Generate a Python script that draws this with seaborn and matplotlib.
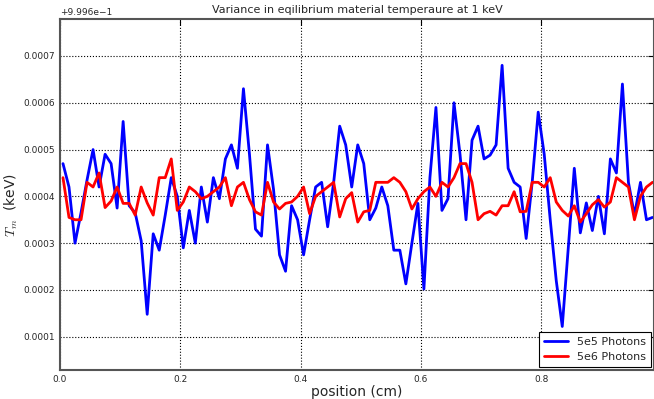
import numpy as np
import pandas as pd
import matplotlib
matplotlib.use("Agg")
import matplotlib.pyplot as plt
import seaborn as sns

# positions of the cells (cm)
position = [0.005 + 0.01 * i for i in range(99)]

# material temperature above the 0.9996 keV offset
offset = 0.9996
dev_5e5 = [
    4.7, 4.2, 3.0, 3.65, 4.35, 5.0, 4.2, 4.9, 4.7, 3.75,
    5.6, 3.8, 3.65, 3.05, 1.48, 3.2, 2.85, 3.6, 4.4, 4.0,
    2.9, 3.7, 3.0, 4.2, 3.45, 4.4, 3.95, 4.8, 5.1, 4.6,
    6.3, 4.9, 3.3, 3.15, 5.1, 4.15, 2.75, 2.4, 3.8, 3.5,
    2.75, 3.5, 4.2, 4.3, 3.35, 4.3, 5.5, 5.1, 4.2, 5.1,
    4.7, 3.5, 3.75, 4.2, 3.8, 2.85, 2.85, 2.13, 3.0, 3.85,
    2.02, 4.4, 5.9, 3.7, 3.95, 6.0, 4.9, 3.5, 5.2, 5.5,
    4.8, 4.88, 5.1, 6.8, 4.6, 4.3, 4.2, 3.1, 4.3, 5.8,
    4.9, 3.5, 2.2, 1.22, 2.9, 4.6, 3.22, 3.86, 3.27, 4.0,
    3.2, 4.8, 4.5, 6.4, 4.3, 3.6, 4.3, 3.5, 3.55,
]
dev_5e6 = [
    4.4, 3.55, 3.5, 3.5, 4.3, 4.2, 4.5, 3.76, 3.9, 4.2,
    3.85, 3.85, 3.6, 4.2, 3.86, 3.6, 4.4, 4.4, 4.8, 3.7,
    3.88, 4.2, 4.1, 3.95, 4.0, 4.1, 4.2, 4.4, 3.8, 4.2,
    4.3, 3.93, 3.67, 3.6, 4.3, 3.88, 3.73, 3.85, 3.88, 4.0,
    4.2, 3.63, 4.0, 4.1, 4.2, 4.3, 3.56, 3.95, 4.08, 3.45,
    3.67, 3.7, 4.3, 4.3, 4.3, 4.4, 4.3, 4.1, 3.73, 3.95,
    4.1, 4.2, 4.0, 4.3, 4.2, 4.4, 4.7, 4.7, 4.3, 3.5,
    3.63, 3.68, 3.6, 3.8, 3.8, 4.1, 3.67, 3.68, 4.3, 4.3,
    4.2, 4.4, 3.88, 3.7, 3.58, 3.8, 3.45, 3.63, 3.82, 3.93,
    3.77, 3.88, 4.4, 4.3, 4.2, 3.5, 4.0, 4.2, 4.3,
]
series = ["5e5 Photons", "5e6 Photons"]
colors = {"5e5 Photons": "blue", "5e6 Photons": "red"}

df = pd.concat([
    pd.DataFrame({"x": position, "T": [offset + d * 1e-4 for d in dev_5e5], "run": series[0]}),
    pd.DataFrame({"x": position, "T": [offset + d * 1e-4 for d in dev_5e6], "run": series[1]}),
])

sns.set_style("white")
plt.rcParams["font.family"] = ["DejaVu Sans"]
plt.rcParams["mathtext.fontset"] = "cm"

fig = plt.figure(figsize=(6.54, 3.99), dpi=100)
ax = fig.add_axes([0.0917, 0.0727, 0.9083, 0.8797])

sns.lineplot(data=df, x="x", y="T", hue="run", hue_order=series, palette=colors,
             linewidth=2, ax=ax, estimator=None, sort=False)

ax.set_xlim(0, 0.9875)
ax.set_ylim(offset + 0.0000290, offset + 0.000779)
ax.set_xticks([0.0, 0.2, 0.4, 0.6, 0.8])
ax.set_yticks([offset + k * 1e-4 for k in range(1, 8)])
ax.xaxis.set_major_formatter(plt.FuncFormatter(lambda v, p: f"{v:.1f}"))
ax.yaxis.set_major_formatter(plt.FuncFormatter(lambda v, p: f"{v - offset:.4f}"))
ax.text(0.0, 1.005, "+9.996e\u22121", transform=ax.transAxes, fontsize=6.5,
        ha="left", va="bottom")

ax.tick_params(direction="in", labelsize=6.5, length=4, width=0.8,
               top=True, right=True, color="black")
ax.grid(True, linestyle=":", color="black", linewidth=0.8)
for s in ax.spines.values():
    s.set_color("#555555")
    s.set_linewidth(1.5)

ax.set_title("Variance in eqilibrium material temperaure at 1 keV", fontsize=8, pad=4)
ax.set_xlabel("position (cm)", fontsize=10, labelpad=1)
ax.set_ylabel(r"$T_m$  (keV)", fontsize=10)
ax.yaxis.set_label_coords(-0.068, 0.47)

leg = ax.legend(loc="lower right", fontsize=8, fancybox=False, framealpha=1,
                edgecolor="black", handlelength=2.2, borderaxespad=0.3)
leg.get_frame().set_linewidth(0.8)

fig.savefig("out.png", dpi=100)
